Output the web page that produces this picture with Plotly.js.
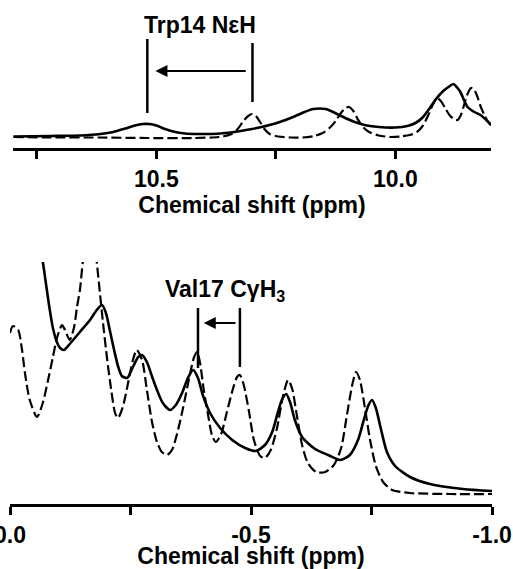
<!DOCTYPE html>
<html>
<head>
<meta charset="utf-8">
<script src="https://cdn.plot.ly/plotly-3.0.1.min.js"></script>
<style>html,body{margin:0;padding:0;background:#fff;}#chart{width:513px;height:569px;}</style>
</head>
<body>
<div id="chart"></div>
<script>
// ---- Top panel (Trp14 NεH region), chemical shift in ppm vs. intensity (a.u.) ----
const topSolidPpm = [10.799,10.722,10.659,10.617,10.59,10.565,10.545,10.528,10.515,10.500,10.485,10.465,10.44,10.41,10.387,10.356,10.324,10.30,10.28,10.255,10.23,10.209,10.19,10.172,10.146,10.126,10.105,10.085,10.06,10.035,10.0,9.975,9.958,9.942,9.928,9.915,9.900,9.889,9.879,9.870,9.864,9.849,9.835,9.822,9.81,9.799];
const topSolidInt = [11.5,12,12.5,14,16,19.5,22.5,24,24,22.5,19.5,16.5,14.5,14,14,15,17,19,21,24,28,32,36,39,39,35,30,26,22.5,21,20.5,22,25,31,40,49,57,61,64,60,56,41,36,33,28,23];
const topDashPpm = [10.799,10.72,10.62,10.52,10.42,10.37,10.345,10.33,10.318,10.308,10.300,10.292,10.283,10.274,10.263,10.245,10.22,10.195,10.17,10.152,10.138,10.125,10.114,10.104,10.097,10.088,10.079,10.068,10.055,10.035,10.01,9.99,9.97,9.955,9.943,9.932,9.922,9.913,9.905,9.896,9.887,9.878,9.870,9.863,9.857,9.850,9.842,9.836,9.829,9.822,9.814,9.806,9.799];
const topDashInt = [11,10.5,10.5,10,10,11,13.5,19,27,32,34,32,26,19,14,11.5,10.5,10.5,12,15,20,27,35,40,41,37,29,21,16,12.5,11,11.5,13,16,22,32,43,50,47,40,33,29,28,33,42,53,60,59,52,42,33,26,22];

// ---- Bottom panel (Val17 CγH3 region) ----
const botSolidPpm = [-0.062,-0.068,-0.075,-0.081,-0.089,-0.098,-0.104,-0.112,-0.124,-0.145,-0.166,-0.180,-0.191,-0.199,-0.207,-0.216,-0.224,-0.232,-0.243,-0.255,-0.266,-0.274,-0.284,-0.295,-0.305,-0.317,-0.332,-0.344,-0.357,-0.369,-0.380,-0.390,-0.400,-0.415,-0.436,-0.461,-0.488,-0.510,-0.529,-0.544,-0.556,-0.564,-0.573,-0.581,-0.591,-0.606,-0.633,-0.660,-0.685,-0.705,-0.722,-0.734,-0.743,-0.751,-0.759,-0.770,-0.782,-0.799,-0.830,-0.871,-0.940,-1.0];
const botSolidInt = [254,242,219,199,176,161,156,154,160,172,184,194,199,191,174,154,138,128,126,137,147,149,142,127,114,101,94,99,111,126,134,126,109,91,76,64,56,53,59,72,92,104,110,102,84,67,55,49,44,49,64,84,98,104,96,74,52,38,27,20,15,13];
const botDashPpm = [0.0,-0.006,-0.017,-0.025,-0.031,-0.041,-0.056,-0.068,-0.079,-0.089,-0.098,-0.108,-0.114,-0.124,-0.133,-0.139,-0.145,-0.151,-0.158,-0.166,-0.174,-0.180,-0.187,-0.193,-0.201,-0.210,-0.218,-0.224,-0.234,-0.245,-0.255,-0.263,-0.274,-0.284,-0.295,-0.305,-0.315,-0.326,-0.336,-0.346,-0.359,-0.373,-0.382,-0.388,-0.394,-0.402,-0.411,-0.419,-0.427,-0.438,-0.450,-0.463,-0.471,-0.477,-0.485,-0.496,-0.506,-0.519,-0.529,-0.541,-0.554,-0.566,-0.577,-0.585,-0.595,-0.606,-0.618,-0.635,-0.654,-0.672,-0.687,-0.699,-0.710,-0.718,-0.726,-0.737,-0.747,-0.759,-0.774,-0.793,-0.830,-0.913,-1.0];
const botDashInt = [171,178,174,154,131,104,87,101,124,147,167,179,174,164,177,197,214,242,269,279,269,242,209,181,147,114,91,86,97,121,144,154,144,114,81,62,52,49,54,69,96,129,147,152,142,114,89,69,62,70,92,116,127,129,119,92,64,48,46,54,76,107,124,116,89,59,41,32,32,39,56,89,119,132,124,94,64,38,22,14,11,10,10];

// ---- Axis ticks ----
const topTickVals = [10.5, 10.0];
const topTickText = ["10.5", "10.0"];
const topMinorVals = [10.75, 10.25];
const botTickVals = [0.0, -0.5, -1.0];
const botTickText = ["0.0", "-0.5", "-1.0"];
const botMinorVals = [-0.25, -0.75];
const axisTitle = "Chemical shift (ppm)";

const FONT = "Liberation Sans, Arial, Helvetica, sans-serif";
const FS = 23;
const solidLine = {color: "#000", width: 2.6, shape: "spline", smoothing: 0.7};
const dashLine = {color: "#000", width: 2.2, dash: "10px,4px", shape: "spline", smoothing: 0.7};

const traces = [
  {x: topDashPpm, y: topDashInt, xaxis: "x", yaxis: "y", mode: "lines", line: dashLine, hoverinfo: "skip"},
  {x: topSolidPpm, y: topSolidInt, xaxis: "x", yaxis: "y", mode: "lines", line: solidLine, hoverinfo: "skip"},
  {x: botDashPpm, y: botDashInt, xaxis: "x2", yaxis: "y2", mode: "lines", line: dashLine, hoverinfo: "skip"},
  {x: botSolidPpm, y: botSolidInt, xaxis: "x2", yaxis: "y2", mode: "lines", line: solidLine, hoverinfo: "skip"}
];

function xAxis(extra) {
  return Object.assign({
    showline: true, linewidth: 3, linecolor: "#000",
    ticks: "outside", ticklen: 8, tickwidth: 3, tickcolor: "#000",
    showgrid: false, zeroline: false, tickmode: "array",
    ticklabeloverflow: "allow",
    tickfont: {family: FONT, size: FS, color: "#000", weight: "bold"},
    title: {text: axisTitle, font: {family: FONT, size: FS, color: "#000", weight: "bold"}, standoff: 0},
    fixedrange: true
  }, extra);
}

const layout = {
  width: 513, height: 569,
  margin: {l: 0, r: 0, t: 0, b: 0},
  paper_bgcolor: "#fff", plot_bgcolor: "rgba(0,0,0,0)",
  showlegend: false,
  xaxis: xAxis({
    domain: [13/513, 491/513], range: [10.8, 9.8], anchor: "y",
    tickvals: topTickVals, ticktext: topTickText,
    minor: {tickmode: "array", tickvals: topMinorVals, ticks: "outside", ticklen: 8, tickwidth: 3, tickcolor: "#000", showgrid: false}
  }),
  yaxis: {domain: [421/569, 558/569], range: [0, 137], visible: false, fixedrange: true},
  xaxis2: xAxis({
    domain: [10/513, 492/513], range: [0.0, -1.0], anchor: "y2",
    tickvals: botTickVals, ticktext: botTickText,
    minor: {tickmode: "array", tickvals: botMinorVals, ticks: "outside", ticklen: 8, tickwidth: 3, tickcolor: "#000", showgrid: false}
  }),
  yaxis2: {domain: [65/569, 307/569], range: [0, 242], visible: false, fixedrange: true},
  shapes: [
    {type: "line", xref: "x", yref: "y", x0: 10.519, x1: 10.519, y0: 35, y1: 109, line: {color: "#000", width: 2.5}},
    {type: "line", xref: "x", yref: "y", x0: 10.299, x1: 10.299, y0: 46, y1: 105, line: {color: "#000", width: 2.5}},
    {type: "line", xref: "x2", yref: "y2", x0: -0.390, x1: -0.390, y0: 136, y1: 196, line: {color: "#000", width: 2.5}},
    {type: "line", xref: "x2", yref: "y2", x0: -0.477, x1: -0.477, y0: 137, y1: 196, line: {color: "#000", width: 2.5}}
  ],
  annotations: [
    {xref: "x", yref: "y", x: 10.408, y: 123, text: "<b>Trp14 NεH</b>", showarrow: false,
     font: {family: FONT, size: FS, color: "#000"}},
    {xref: "x", yref: "y", axref: "x", ayref: "y", x: 10.502, y: 77, ax: 10.310, ay: 77, text: "",
     showarrow: true, arrowhead: 2, arrowsize: 1.2, arrowwidth: 2, arrowcolor: "#000", standoff: 0, startstandoff: 0},
    {xref: "x2", yref: "y2", x: -0.446, y: 214, text: "<b>Val17 CγH<sub>3</sub></b>", showarrow: false,
     font: {family: FONT, size: FS, color: "#000"}},
    {xref: "x2", yref: "y2", axref: "x2", ayref: "y2", x: -0.402, y: 181, ax: -0.471, ay: 181, text: "",
     showarrow: true, arrowhead: 2, arrowsize: 1.2, arrowwidth: 2, arrowcolor: "#000", standoff: 0, startstandoff: 0}
  ]
};

Plotly.newPlot("chart", traces, layout, {staticPlot: true, displayModeBar: false});
</script>
</body>
</html>
